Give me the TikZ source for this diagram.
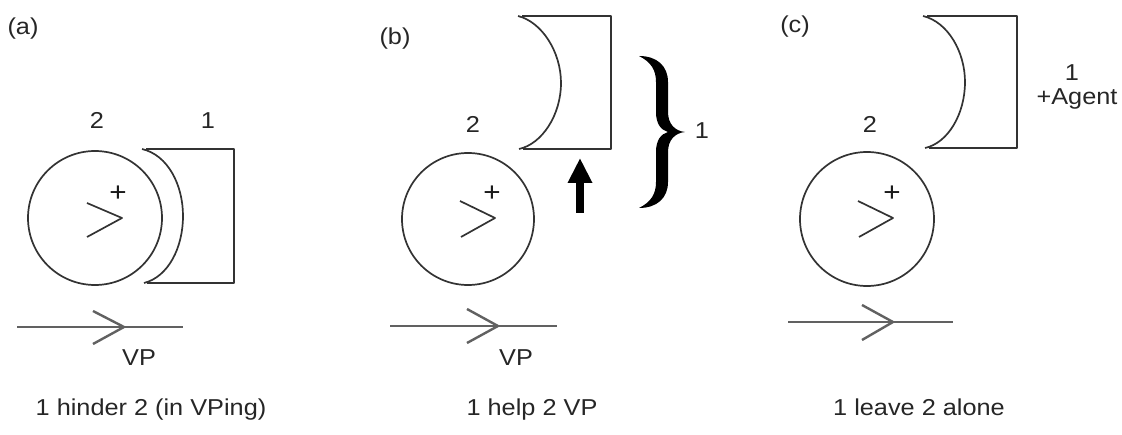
\documentclass[tikz,border=0pt]{standalone}
\usepackage{fontspec}
\setmainfont{Liberation Sans}[FakeStretch=1.1]
\usetikzlibrary{arrows.meta}
\begin{document}
\begin{tikzpicture}[x=1pt,y=-1pt,
  shp/.style={line width=1.7pt, draw=black!80, line join=round},
  track/.style={line width=2.4pt, draw=black!62, line join=round},
  lbl/.style={inner sep=0pt, anchor=base, font=\fontsize{23}{27}\selectfont, text=black!85},
  plus/.style={inner sep=0pt, font=\fontsize{27}{30}\selectfont, text=black!90}]
\useasboundingbox (0,0) rectangle (1122,435);

% ---------- panel (a) ----------
\node[lbl] (la) at (23,35) {(a)};
\coordinate (ca) at (95,218);
\draw[shp] (ca) circle[radius=67pt];
\draw[shp] (87,203) -- (122,218) -- (87,237);
\node[plus] (pa) at (118,194) {+};
\draw[shp] (142,149) .. controls (168,155) and (183,185) .. (183,216)
           .. controls (183,248) and (168,277) .. (144,283);
\draw[shp] (146,149) -- (234,149) -- (234,283) -- (147,283);
\node[lbl] (a2) at (97,129) {2};
\node[lbl] (a1) at (208,129) {1};
\draw[track] (17,327) -- (183,327);
\draw[track] (93,311) -- (124,327) -- (93,344);
\node[lbl] (avp) at (139,366) {VP};
\node[lbl] (acap) at (151,416) {1 hinder 2 (in VPing)};

% ---------- panel (b) ----------
\node[lbl] (lb) at (395,45) {(b)};
\coordinate (cb) at (468,219);
\draw[shp] (cb) circle[radius=66pt];
\draw[shp] (460,201) -- (495,218) -- (461,237);
\node[plus] (pb) at (492,194) {+};
\draw[shp] (518,16) .. controls (542,22) and (561,52) .. (561,83)
           .. controls (561,115) and (542,144) .. (519,149);
\draw[shp] (522,16) -- (611,16) -- (611,149) -- (523,149);
\node[lbl] (b2) at (473,133) {2};
\draw[-{Triangle[width=23pt,length=25pt]}, line width=8pt, black]
  (580,213) -- (580,158);
\fill[black] (639,56) .. controls (657,56) and (668,66) .. (668,82) -- (668,112)
  .. controls (668,124) and (675,131) .. (685,132)
  .. controls (675,133) and (668,140) .. (668,152) -- (668,182)
  .. controls (668,198) and (657,208) .. (639,208)
  .. controls (651,202) and (656,194) .. (656,182) -- (656,152)
  .. controls (656,140) and (661,134) .. (668,132)
  .. controls (661,130) and (656,124) .. (656,112) -- (656,82)
  .. controls (656,70) and (651,62) .. (639,56) -- cycle;
\node[lbl] (b1) at (702,139) {1};
\draw[track] (390,326) -- (557,326);
\draw[track] (467,309) -- (498,326) -- (467,343);
\node[lbl] (bvp) at (516,366) {VP};
\node[lbl] (bcap) at (532,416) {1 help 2 VP};

% ---------- panel (c) ----------
\node[lbl] (lc) at (795,33) {(c)};
\coordinate (cc) at (867,219);
\draw[shp] (cc) circle[radius=67pt];
\draw[shp] (858,201) -- (893,218) -- (859,237);
\node[plus] (pc) at (892,194) {+};
\draw[shp] (923,16) .. controls (948,22) and (965,52) .. (965,82)
           .. controls (965,114) and (948,143) .. (925,148);
\draw[shp] (927,16) -- (1017,16) -- (1017,148) -- (929,148);
\node[lbl] (c2) at (870,133) {2};
\node[lbl] (c1) at (1072,81) {1};
\node[lbl] (cag) at (1077,105) {+Agent};
\draw[track] (788,322) -- (953,322);
\draw[track] (862,305) -- (893,322) -- (862,340);
\node[lbl] (ccap) at (919,416) {1 leave 2 alone};
\end{tikzpicture}
\end{document}
